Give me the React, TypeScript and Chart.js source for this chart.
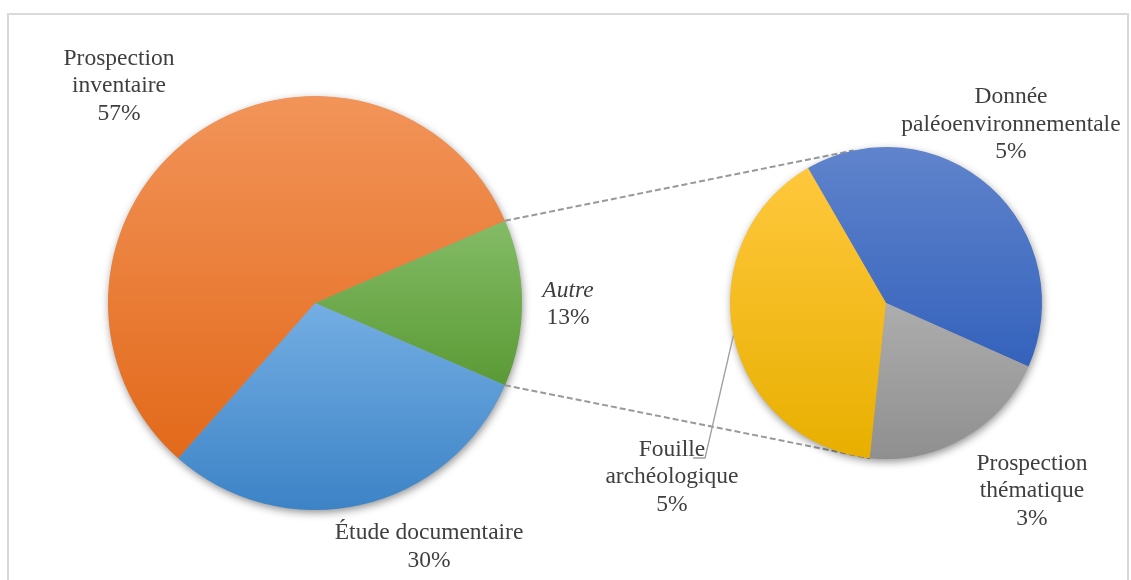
import React, { useEffect, useRef } from "react";
import { Chart, registerables } from "chart.js";
Chart.register(...registerables);

// ---- data ----
const mainLabels = ["Autre", "Étude documentaire", "Prospection inventaire"];
const mainLines = [["Autre"], ["Étude documentaire"], ["Prospection", "inventaire"]];
const mainValues = [13, 30, 57];

const subLabels = ["Donnée paléoenvironnementale", "Prospection thématique", "Fouille archéologique"];
const subLines = [["Donnée", "paléoenvironnementale"], ["Prospection", "thématique"], ["Fouille", "archéologique"]];
const subValues = [5.2, 2.6, 5.2];

// ---- styles ----
const mainColors: [string, string][] = [
  ["#84BC66", "#5A9A35"],
  ["#74AEE3", "#3C83C6"],
  ["#F29459", "#E2691A"],
];
const subColors: [string, string][] = [
  ["#6084CC", "#3462BC"],
  ["#ADADAD", "#8F8F8F"],
  ["#FFC83D", "#E8AF00"],
];
// label anchors relative to pie centre, in units of radius (middle baseline)
const mainLabelPos = [
  [1.222, 0.036],
  [0.551, 1.208],
  [-0.947, -1.019],
];
const subLabelPos = [
  [0.801, -1.103],
  [0.936, 1.244],
  [-1.372, 1.154],
];
const FONT = '"Liberation Serif", "Times New Roman", serif';
const FONT_SIZE = 23.5;
const LINE_H = 27.5;
const TEXT_COLOR = "#3f3f3f";

function gradientFor(colors: [string, string][]) {
  return (ctx: any) => {
    const chart = ctx.chart;
    const area = chart.chartArea;
    const i = ctx.dataIndex;
    if (i === undefined || !area) return colors[0][1];
    const cx = (area.left + area.right) / 2;
    const cy = (area.top + area.bottom) / 2;
    const r = Math.min(area.right - area.left, area.bottom - area.top) / 2;
    const data = chart.data.datasets[ctx.datasetIndex].data as number[];
    const total = data.reduce((a, b) => a + b, 0);
    let a0 = ((chart.options.rotation || 0) - 90) * Math.PI / 180;
    for (let k = 0; k < i; k++) a0 += (data[k] / total) * Math.PI * 2;
    const a1 = a0 + (data[i] / total) * Math.PI * 2;
    let minY = cy, maxY = cy;
    for (let s = 0; s <= 60; s++) {
      const a = a0 + ((a1 - a0) * s) / 60;
      const y = cy + r * Math.sin(a);
      minY = Math.min(minY, y);
      maxY = Math.max(maxY, y);
    }
    const g = chart.ctx.createLinearGradient(0, minY, 0, maxY + 0.01);
    g.addColorStop(0, colors[i][0]);
    g.addColorStop(1, colors[i][1]);
    return g;
  };
}

const shadowPlugin = {
  id: "pieShadow",
  beforeDatasetsDraw(chart: any) {
    const arc = chart.getDatasetMeta(0).data[0];
    if (!arc) return;
    const c = chart.ctx;
    c.save();
    c.shadowColor = "rgba(0,0,0,0.45)";
    c.shadowBlur = 9;
    c.shadowOffsetX = 1;
    c.shadowOffsetY = 3;
    c.fillStyle = "#999";
    c.beginPath();
    c.arc(arc.x, arc.y, arc.outerRadius - 0.5, 0, Math.PI * 2);
    c.fill();
    c.restore();
  },
};

function labelPlugin(lines: string[][], values: number[], pos: number[][], italicIdx: number) {
  return {
    id: "pieLabels",
    afterDraw(chart: any) {
      const arc = chart.getDatasetMeta(0).data[0];
      if (!arc) return;
      const c = chart.ctx;
      const r = arc.outerRadius;
      c.save();
      c.fillStyle = TEXT_COLOR;
      c.textAlign = "center";
      c.textBaseline = "alphabetic";
      values.forEach((v, i) => {
        const all = [...lines[i], Math.round(v) + "%"];
        const x = arc.x + pos[i][0] * r;
        const y = arc.y + pos[i][1] * r;
        const n = all.length;
        all.forEach((t, j) => {
          const italic = i === italicIdx && j < n - 1;
          c.font = `${italic ? "italic " : ""}${FONT_SIZE}px ${FONT}`;
          c.fillText(t, x, y + (j - (n - 1) / 2) * LINE_H);
        });
      });
      c.restore();
    },
  };
}

export default function App() {
  const mainRef = useRef<HTMLCanvasElement>(null);
  const subRef = useRef<HTMLCanvasElement>(null);

  useEffect(() => {
    if (!mainRef.current || !subRef.current) return;
    const mainChart = new Chart(mainRef.current, {
      type: "pie",
      data: {
        labels: mainLabels,
        datasets: [{ data: mainValues, backgroundColor: gradientFor(mainColors) as any, borderWidth: 0 }],
      },
      options: {
        responsive: false,
        animation: false,
        events: [],
        rotation: 90 - (mainValues[0] / mainValues.reduce((a, b) => a + b, 0)) * 180,
        layout: { padding: { left: 108, right: 609, top: 96, bottom: 70 } },
        plugins: { legend: { display: false }, tooltip: { enabled: false } },
      },
      plugins: [shadowPlugin, labelPlugin(mainLines, mainValues, mainLabelPos, 0)],
    });

    const connectorPlugin = {
      id: "connectors",
      beforeDatasetsDraw(chart: any) {
        const m = mainChart.getDatasetMeta(0).data[0] as any;
        const s = chart.getDatasetMeta(0).data[0];
        if (!m || !s) return;
        const c = chart.ctx;
        const mr = m.outerRadius, sr = s.outerRadius;
        const p1 = [m.x + mr * Math.cos(m.startAngle), m.y + mr * Math.sin(m.startAngle)];
        const p2 = [m.x + mr * Math.cos(m.endAngle), m.y + mr * Math.sin(m.endAngle)];
        const t = (-102 * Math.PI) / 180, b = (96 * Math.PI) / 180;
        const q1 = [s.x + sr * Math.cos(t), s.y + sr * Math.sin(t)];
        const q2 = [s.x + sr * Math.cos(b), s.y + sr * Math.sin(b)];
        c.save();
        c.strokeStyle = "#999999";
        c.lineWidth = 2;
        c.setLineDash([6, 3]);
        c.beginPath();
        c.moveTo(p1[0], p1[1]);
        c.lineTo(q1[0], q1[1]);
        c.moveTo(p2[0], p2[1]);
        c.lineTo(q2[0], q2[1]);
        c.stroke();
        c.restore();
      },
      afterDraw(chart: any) {
        const s = chart.getDatasetMeta(0).data[0];
        if (!s) return;
        const c = chart.ctx;
        const r = s.outerRadius;
        const a = (168 * Math.PI) / 180;
        c.save();
        c.strokeStyle = "#a0a0a0";
        c.lineWidth = 1.4;
        c.beginPath();
        c.moveTo(s.x + r * Math.cos(a), s.y + r * Math.sin(a));
        c.lineTo(s.x - 1.16 * r, s.y + 0.994 * r);
        c.lineTo(s.x - 1.237 * r, s.y + 0.994 * r);
        c.stroke();
        c.restore();
      },
    };

    const subChart = new Chart(subRef.current, {
      type: "pie",
      data: {
        labels: subLabels,
        datasets: [{ data: subValues, backgroundColor: gradientFor(subColors) as any, borderWidth: 0 }],
      },
      options: {
        responsive: false,
        animation: false,
        events: [],
        rotation: -30,
        layout: { padding: { left: 730, right: 89, top: 147, bottom: 121 } },
        plugins: { legend: { display: false }, tooltip: { enabled: false } },
      },
      plugins: [connectorPlugin, shadowPlugin, labelPlugin(subLines, subValues, subLabelPos, -1)],
    });

    return () => {
      subChart.destroy();
      mainChart.destroy();
    };
  }, []);

  return (
    <div style={{ position: "absolute", left: 0, top: 0, width: 1131, height: 580, overflow: "hidden", background: "#fff" }}>
      <div
        style={{
          position: "absolute",
          left: 7,
          top: 13,
          width: 1122,
          height: 620,
          border: "2px solid #d9d9d9",
          boxSizing: "border-box",
        }}
      />
      <canvas ref={mainRef} width={1131} height={580} style={{ position: "absolute", left: 0, top: 0 }} />
      <canvas ref={subRef} width={1131} height={580} style={{ position: "absolute", left: 0, top: 0 }} />
    </div>
  );
}
